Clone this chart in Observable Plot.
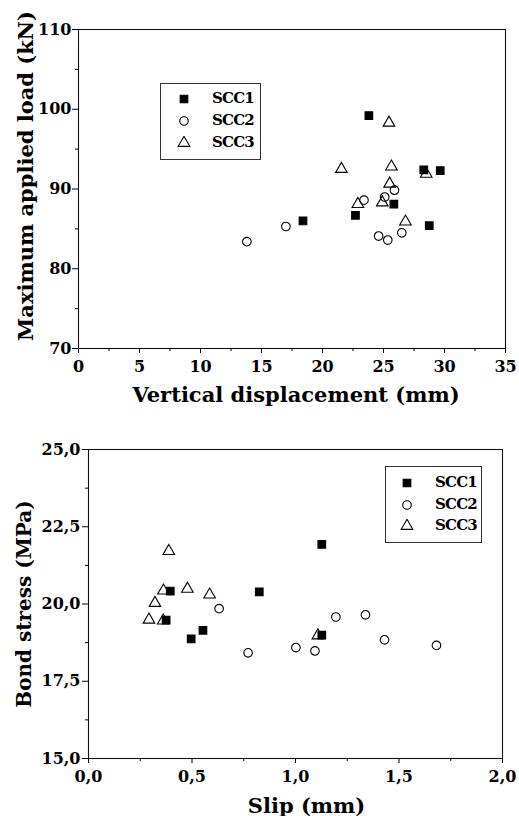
<!DOCTYPE html>
<html>
<head>
<meta charset="utf-8">
<script src="https://cdn.jsdelivr.net/npm/d3@7"></script>
<script src="https://cdn.jsdelivr.net/npm/@observablehq/plot@0.6"></script>
<style>
  html, body { margin: 0; padding: 0; background: white; }
  #root { width: 519px; position: relative; font-family: "DejaVu Serif", serif; }
  #root svg text { font-weight: bold; }
  .fig { position: relative; width: 519px; }
  .legend { position: absolute; border: 1px solid #333; background: white; box-sizing: border-box; }
  .lg-item { position: absolute; font-weight: bold; font-size: 15px; line-height: 1; color: #000; letter-spacing: -0.8px; }
  .lg-sym { position: absolute; }
</style>
</head>
<body>
<div id="root"></div>
<script>
// ---------- data ----------
const seriesNames = ["SCC1", "SCC2", "SCC3"];

// Top chart: Maximum applied load vs vertical displacement
const topSCC1X = [23.8, 18.4, 22.7, 25.85, 28.3, 29.65, 28.75];
const topSCC1Y = [99.2, 86.0, 86.7, 88.1, 92.4, 92.3, 85.4];
const topSCC2X = [13.8, 17.0, 23.4, 25.1, 25.9, 24.6, 25.35, 26.5];
const topSCC2Y = [83.4, 85.3, 88.6, 89.0, 89.85, 84.1, 83.6, 84.5];
const topSCC3X = [21.55, 25.45, 25.65, 25.5, 22.9, 24.9, 26.8, 28.5];
const topSCC3Y = [92.5, 98.3, 92.8, 90.65, 88.1, 88.3, 85.9, 91.9];

// Bottom chart: Bond stress vs slip
const botSCC1X = [0.395, 0.825, 1.127, 0.375, 0.553, 0.496, 1.127];
const botSCC1Y = [20.42, 20.39, 21.93, 19.48, 19.15, 18.87, 18.99];
const botSCC2X = [0.631, 0.771, 1.002, 1.094, 1.195, 1.338, 1.430, 1.681];
const botSCC2Y = [19.85, 18.42, 18.59, 18.48, 19.58, 19.65, 18.84, 18.66];
const botSCC3X = [0.388, 0.362, 0.478, 0.585, 0.321, 0.292, 0.361, 1.108];
const botSCC3Y = [21.71, 20.43, 20.49, 20.30, 20.03, 19.49, 19.46, 18.98];

// ticks
const topXMajor = [0, 5, 10, 15, 20, 25, 30, 35];
const topXMinor = [2.5, 7.5, 12.5, 17.5, 22.5, 27.5, 32.5];
const topYMajor = [70, 80, 90, 100, 110];
const topYMinor = [75, 85, 95, 105];
const botXMajor = [0, 0.5, 1.0, 1.5, 2.0];
const botXMinor = [0.25, 0.75, 1.25, 1.75];
const botYMajor = [15, 17.5, 20, 22.5, 25];
const botYMinor = [16.25, 18.75, 21.25, 23.75];

const topXLabel = "Vertical displacement (mm)";
const topYLabel = "Maximum applied load (kN)";
const botXLabel = "Slip (mm)";
const botYLabel = "Bond stress (MPa)";

// ---------- helpers ----------
const zip = (xs, ys) => xs.map((x, i) => ({x, y: ys[i]}));
const symbolOf = {SCC1: "square", SCC2: "circle", SCC3: "triangle"};
const R = 4.3;

function seriesDots(sets) {
  return sets.map(([name, xs, ys]) =>
    Plot.dot(zip(xs, ys), {
      x: "x", y: "y", r: R,
      symbol: () => symbolOf[name],
      fill: name === "SCC1" ? "black" : "none",
      stroke: "black",
      strokeWidth: 1.1
    })
  );
}

const fontStyle = {fontFamily: "DejaVu Serif", fontWeight: "bold", fontSize: "16px", color: "black", background: "white", overflow: "visible"};

function chart(cfg) {
  return Plot.plot({
    width: 519, height: cfg.height,
    marginLeft: cfg.ml, marginRight: cfg.mr, marginTop: cfg.mt, marginBottom: cfg.mb,
    x: {domain: cfg.xdom},
    y: {domain: cfg.ydom},
    symbol: {domain: ["square", "circle", "triangle"], range: ["square", "circle", "triangle"]},
    style: fontStyle,
    marks: [
      Plot.frame({stroke: "#111", strokeWidth: 1.1}),
      Plot.axisX({ticks: cfg.xMajor, tickSize: 5, tickPadding: 7, tickFormat: cfg.fmt, label: null, fontSize: 16, fontWeight: "bold"}),
      Plot.axisX({ticks: cfg.xMinor, tickSize: 3, tickFormat: () => "", label: null}),
      Plot.axisY({ticks: cfg.yMajor, tickSize: 6, tickPadding: cfg.yPad, tickFormat: cfg.fmt, label: null, fontSize: 16, fontWeight: "bold"}),
      Plot.axisY({ticks: cfg.yMinor, tickSize: 3, tickFormat: () => "", label: null}),
      ...seriesDots(cfg.sets),
      Plot.text([cfg.xLabel], {text: d => d, frameAnchor: "bottom", textAnchor: "middle", lineAnchor: "bottom", dx: cfg.xlDx, dy: cfg.xlDy, fontSize: cfg.xlSize, fontWeight: "bold"}),
      Plot.text([cfg.yLabel], {text: d => d, frameAnchor: "left", textAnchor: "middle", lineAnchor: "bottom", rotate: -90, dx: cfg.ylDx, dy: cfg.ylDy, fontSize: cfg.ylSize, fontWeight: "bold"})
    ]
  });
}

function legend(fig, box) {
  const div = document.createElement("div");
  div.className = "legend";
  Object.assign(div.style, {left: box.left + "px", top: box.top + "px", width: box.width + "px", height: box.height + "px"});
  fig.appendChild(div);
  seriesNames.forEach((name, i) => {
    const cy = box.rows[i];
    const s = 14;
    const svg = d3.create("svg").attr("class", "lg-sym").attr("width", s).attr("height", s)
      .style("left", (box.symX - s / 2) + "px").style("top", (cy - s / 2) + "px");
    svg.append("path")
      .attr("transform", `translate(${s / 2},${s / 2})`)
      .attr("d", d3.symbol(symbolOf[name] === "square" ? d3.symbolSquare : symbolOf[name] === "circle" ? d3.symbolCircle : d3.symbolTriangle, Math.PI * R * R)())
      .attr("fill", name === "SCC1" ? "black" : "none")
      .attr("stroke", "black").attr("stroke-width", 1.1);
    fig.appendChild(svg.node());
    const t = document.createElement("div");
    t.className = "lg-item";
    t.textContent = name;
    t.style.left = box.textX + "px";
    t.style.top = (cy - 8) + "px";
    fig.appendChild(t);
  });
}

const root = document.getElementById("root");
const commaFmt = d => d.toFixed(1).replace(".", ",");

// top figure
const fig1 = document.createElement("div");
fig1.className = "fig"; fig1.style.height = "410px";
root.appendChild(fig1);
fig1.appendChild(chart({
  height: 410, ml: 78, mr: 14, mt: 29, mb: 62,
  xdom: [0, 35], ydom: [70, 110],
  xMajor: topXMajor, xMinor: topXMinor, yMajor: topYMajor, yMinor: topYMinor,
  yPad: 1, fmt: d => String(d),
  sets: [["SCC1", topSCC1X, topSCC1Y], ["SCC2", topSCC2X, topSCC2Y], ["SCC3", topSCC3X, topSCC3Y]],
  xLabel: topXLabel, yLabel: topYLabel,
  xlDx: 4, xlDy: 53, xlSize: 21, ylDx: -46, ylDy: -13, ylSize: 21
}));
legend(fig1, {left: 160, top: 83, width: 101, height: 77, symX: 184, textX: 212, rows: [99, 121, 143]});

// bottom figure
const fig2 = document.createElement("div");
fig2.className = "fig"; fig2.style.height = "406px";
root.appendChild(fig2);
fig2.appendChild(chart({
  height: 406, ml: 88, mr: 17, mt: 39, mb: 58,
  xdom: [0, 2], ydom: [15, 25],
  xMajor: botXMajor, xMinor: botXMinor, yMajor: botYMajor, yMinor: botYMinor,
  yPad: 2, fmt: commaFmt,
  sets: [["SCC1", botSCC1X, botSCC1Y], ["SCC2", botSCC2X, botSCC2Y], ["SCC3", botSCC3X, botSCC3Y]],
  xLabel: botXLabel, yLabel: botYLabel,
  xlDx: 11, xlDy: 54, xlSize: 21, ylDx: -58, ylDy: 0, ylSize: 20
}));
legend(fig2, {left: 385, top: 56, width: 97, height: 77, symX: 407, textX: 435, rows: [73, 95, 116]});
</script>
</body>
</html>
